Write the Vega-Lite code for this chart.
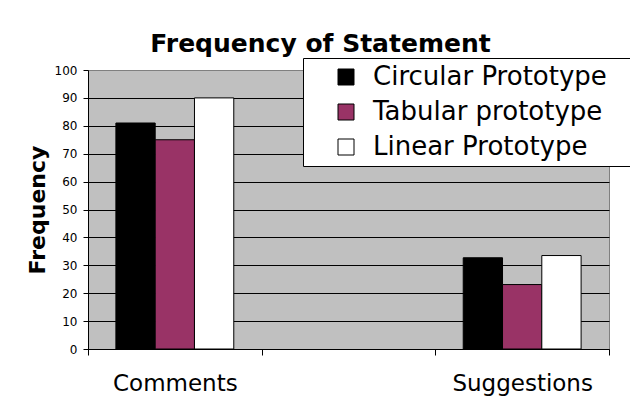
{
  "$schema": "https://vega.github.io/schema/vega-lite/v6.json",
  "width": 521,
  "height": 279,
  "autosize": {"type": "none"},
  "padding": {"left": 88, "top": 70, "right": 21, "bottom": 58},
  "background": "white",
  "title": {
    "text": "Frequency of Statement",
    "font": "DejaVu Sans",
    "fontSize": 25,
    "fontWeight": "bold",
    "color": "black",
    "anchor": "middle",
    "frame": "group",
    "baseline": "alphabetic",
    "dx": -28,
    "dy": 24,
    "offset": 5
  },
  "data": {
    "values": [
      {"category": "Comments", "series": "Circular Prototype", "value": 81},
      {"category": "Comments", "series": "Tabular prototype", "value": 75},
      {"category": "Comments", "series": "Linear Prototype", "value": 90},
      {"category": "Suggestions", "series": "Circular Prototype", "value": 32.7},
      {"category": "Suggestions", "series": "Tabular prototype", "value": 23.1},
      {"category": "Suggestions", "series": "Linear Prototype", "value": 33.5}
    ]
  },
  "mark": {"type": "bar", "stroke": "black", "strokeWidth": 1, "opacity": 1},
  "encoding": {
    "x": {
      "field": "category",
      "type": "nominal",
      "sort": null,
      "scale": {"domain": ["Comments", " ", "Suggestions"], "paddingInner": 0, "paddingOuter": 0},
      "axis": {
        "title": null,
        "labelAngle": 0,
        "tickBand": "extent",
        "tickSize": 6,
        "tickColor": "black",
        "domainColor": "black",
        "labelFont": "DejaVu Sans",
        "labelFontSize": 23,
        "labelPadding": 17,
        "labelColor": "black"
      }
    },
    "xOffset": {
      "field": "series",
      "type": "nominal",
      "sort": null,
      "scale": {"domain": ["Circular Prototype", "Tabular prototype", "Linear Prototype"], "paddingInner": 0, "paddingOuter": 0.71}
    },
    "y": {
      "field": "value",
      "type": "quantitative",
      "scale": {"domain": [0, 100], "nice": false},
      "axis": {
        "title": "Frequency",
        "values": [0, 10, 20, 30, 40, 50, 60, 70, 80, 90, 100],
        "tickSize": 5,
        "tickColor": "black",
        "domainColor": "black",
        "gridColor": {"condition": {"test": "datum.value == 100", "value": "#808080"}, "value": "black"},
        "gridOpacity": 1,
        "gridWidth": 1,
        "labelFont": "DejaVu Sans",
        "labelFontSize": 12,
        "labelPadding": 6,
        "labelColor": "black",
        "titleFont": "DejaVu Sans",
        "titleFontSize": 22,
        "titleFontWeight": "bold",
        "titleColor": "black",
        "titlePadding": 5
      }
    },
    "color": {
      "field": "series",
      "type": "nominal",
      "sort": null,
      "scale": {
        "domain": ["Circular Prototype", "Tabular prototype", "Linear Prototype"],
        "range": ["#000000", "#993366", "#ffffff"]
      },
      "legend": {
        "orient": "none",
        "legendX": 215,
        "legendY": -12,
        "title": "\u00a0",
        "titleOrient": "right",
        "titleFontSize": 2,
        "titlePadding": 40,
        "fillColor": "white",
        "strokeColor": "black",
        "padding": 6,
        "symbolOffset": 24,
        "symbolType": "square",
        "symbolSize": 256,
        "symbolStrokeColor": "black",
        "symbolStrokeWidth": 1,
        "symbolOpacity": 1,
        "labelFont": "DejaVu Sans",
        "labelFontSize": 26,
        "labelColor": "black",
        "labelOffset": 14,
        "labelLimit": 0,
        "rowPadding": 9
      }
    }
  },
  "config": {
    "view": {"fill": "#c0c0c0", "stroke": "#808080", "strokeWidth": 1}
  }
}
